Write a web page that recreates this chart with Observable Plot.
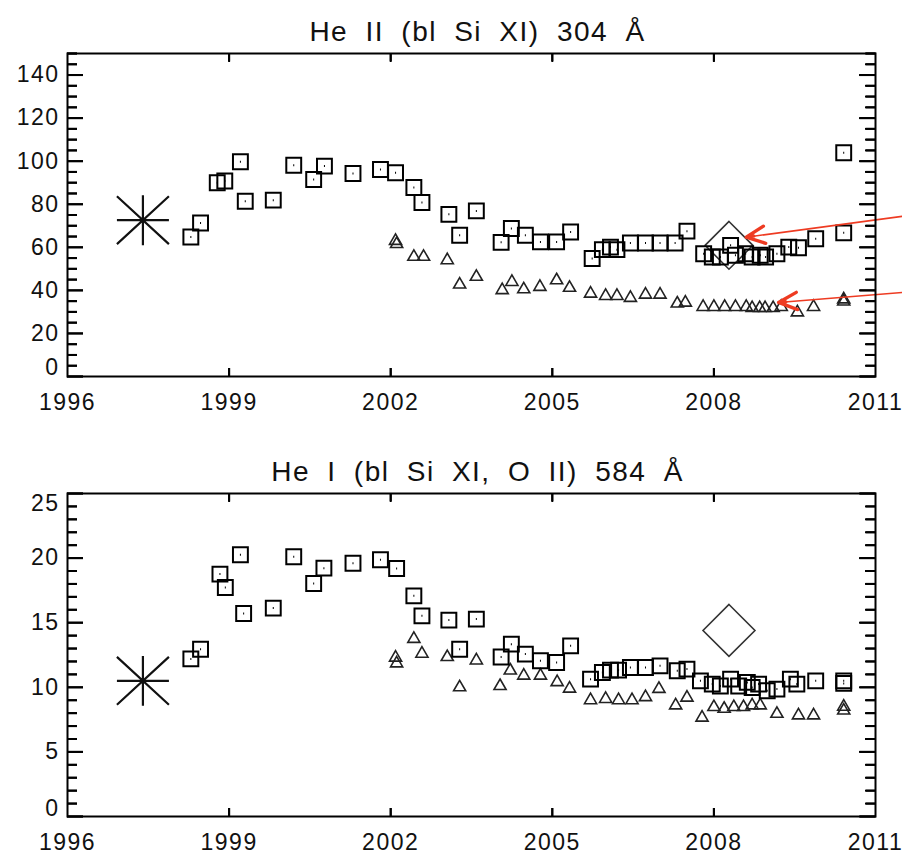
<!DOCTYPE html>
<html>
<head>
<meta charset="utf-8">
<script src="https://cdn.jsdelivr.net/npm/d3@7"></script>
<script src="https://cdn.jsdelivr.net/npm/@observablehq/plot@0.6"></script>
<style>
  body { margin: 0; background: #fff; }
  #chart svg { display: block; }
</style>
</head>
<body>
<div id="chart"></div>
<script>
// ---------- data ----------
const xLabels = [1996, 1999, 2002, 2005, 2008, 2011];
const xInnerTicks = [1999, 2002, 2005, 2008];
const xExtent = [1996, 2011];

const titleTop = "He II (bl Si XI) 304 Å";
const titleBottom = "He I (bl Si XI, O II) 584 Å";

// He II 304 Å — squares [year, value]
const he304Squares = [
  [1998.29, 64.8], [1998.47, 71.3], [1998.78, 90.0], [1998.92, 90.8], [1999.21, 99.7],
  [1999.30, 81.4], [1999.82, 81.9], [2000.20, 98.1], [2000.57, 91.5], [2000.77, 97.7],
  [2001.30, 94.3], [2001.81, 96.1], [2002.09, 94.6], [2002.43, 87.8], [2002.58, 80.8],
  [2003.08, 75.3], [2003.28, 65.6], [2003.59, 76.9], [2004.05, 62.3], [2004.24, 68.7],
  [2004.50, 65.6], [2004.78, 62.5], [2005.08, 62.5], [2005.34, 67.1], [2005.74, 54.8],
  [2005.93, 58.9], [2006.08, 60.1], [2006.20, 58.9], [2006.45, 62.0], [2006.73, 62.0],
  [2007.00, 62.0], [2007.28, 62.0], [2007.50, 67.5], [2007.81, 57.0], [2007.97, 55.5],
  [2008.12, 55.5], [2008.31, 60.9], [2008.40, 56.3], [2008.59, 57.0], [2008.71, 55.5],
  [2008.86, 56.3], [2008.96, 55.5], [2009.17, 57.0], [2009.39, 60.1], [2009.57, 59.8],
  [2009.89, 64.0], [2010.41, 66.7], [2010.41, 103.9]
];
// He II 304 Å — triangles
const he304Triangles = [
  [2002.09, 63.0], [2002.11, 61.5], [2002.43, 55.6], [2002.61, 55.6], [2003.05, 54.0],
  [2003.28, 42.7], [2003.59, 46.3], [2004.07, 40.1], [2004.25, 43.9], [2004.47, 40.5],
  [2004.77, 41.6], [2005.08, 44.7], [2005.32, 41.2], [2005.71, 38.5], [2005.99, 37.4],
  [2006.20, 37.4], [2006.45, 36.5], [2006.73, 38.0], [2007.00, 38.0], [2007.32, 33.9],
  [2007.47, 34.3], [2007.80, 32.3], [2008.00, 32.3], [2008.20, 32.3], [2008.40, 32.3],
  [2008.60, 32.3], [2008.71, 31.8], [2008.85, 31.8], [2008.95, 31.8], [2009.10, 31.8],
  [2009.25, 32.3], [2009.55, 29.8], [2009.85, 32.3], [2010.41, 35.8], [2010.41, 34.8]
];
const he304Star = [[1997.40, 72.6]];
const he304Diamond = [[2008.28, 60.9]];

// He I 584 Å — squares
const he584Squares = [
  [1998.29, 12.20], [1998.47, 12.95], [1998.83, 18.76], [1998.93, 17.72], [1999.21, 20.26],
  [1999.27, 15.71], [1999.82, 16.13], [2000.20, 20.10], [2000.57, 18.03], [2000.76, 19.22],
  [2001.30, 19.60], [2001.81, 19.87], [2002.11, 19.20], [2002.43, 17.08], [2002.58, 15.53],
  [2003.08, 15.20], [2003.28, 12.95], [2003.59, 15.28], [2004.05, 12.35], [2004.24, 13.34],
  [2004.50, 12.57], [2004.78, 12.05], [2005.08, 11.92], [2005.34, 13.21], [2005.71, 10.63],
  [2005.93, 11.15], [2006.08, 11.33], [2006.23, 11.33], [2006.45, 11.53], [2006.73, 11.53],
  [2007.00, 11.66], [2007.32, 11.28], [2007.50, 11.41], [2007.75, 10.50], [2007.97, 10.25],
  [2008.12, 10.10], [2008.31, 10.63], [2008.46, 10.10], [2008.62, 10.38], [2008.71, 9.98],
  [2008.83, 10.25], [2008.99, 9.73], [2009.17, 9.86], [2009.42, 10.63], [2009.54, 10.25],
  [2009.89, 10.50], [2010.41, 10.50], [2010.41, 10.30]
];
// He I 584 Å — triangles
const he584Triangles = [
  [2002.09, 12.30], [2002.11, 11.85], [2002.43, 13.75], [2002.58, 12.60], [2003.05, 12.34],
  [2003.28, 10.00], [2003.59, 12.08], [2004.03, 10.10], [2004.22, 11.30], [2004.47, 10.90],
  [2004.78, 10.90], [2005.09, 10.40], [2005.32, 9.90], [2005.71, 9.00], [2005.99, 9.10],
  [2006.23, 9.00], [2006.48, 9.00], [2006.73, 9.24], [2006.98, 9.88], [2007.29, 8.60],
  [2007.50, 9.20], [2007.78, 7.65], [2008.00, 8.47], [2008.19, 8.34], [2008.37, 8.47],
  [2008.55, 8.47], [2008.71, 8.60], [2008.86, 8.60], [2009.17, 7.95], [2009.57, 7.83],
  [2009.85, 7.83], [2010.41, 8.50], [2010.41, 8.20]
];
const he584Star = [[1997.40, 10.5]];
const he584Diamond = [[2008.28, 14.4]];

// red annotation arrows in the top panel: [startYear, startValue, endYear, endValue]
const topArrows = [
  [2011.50, 74.4, 2008.60, 64.7],
  [2011.50, 39.0, 2009.20, 34.4]
];

// ---------- helpers ----------
const range = (a, b, s) => d3.range(a, b + s / 2, s);

// 8-armed asterisk with a small centre ring
const starSymbol = {
  draw(ctx, size) {
    const r = Math.sqrt(size / Math.PI);
    ctx.moveTo(-r, 0); ctx.lineTo(r, 0);
    ctx.moveTo(0, -0.96 * r); ctx.lineTo(0, 0.96 * r);
    ctx.moveTo(-r, -0.92 * r); ctx.lineTo(r, 0.92 * r);
    ctx.moveTo(-r, 0.92 * r); ctx.lineTo(r, -0.92 * r);
    ctx.moveTo(1.6, 0); ctx.arc(0, 0, 1.6, 0, 2 * Math.PI);
  }
};
// open square with a dot in its centre
const dottedSquare = {
  draw(ctx, size) {
    const w = Math.sqrt(size), h = w / 2;
    ctx.rect(-h, -h, w, w);
    ctx.moveTo(-0.5, 0); ctx.lineTo(0.5, 0);
  }
};

const W = 902, ML = 67, MR = 27, MT = 53;
const FW = W - ML - MR; // frame width in px
const FH = 323;         // frame height in px

function panel(o) {
  const xy = {x: d => d[0], y: d => d[1]};
  const tk = {stroke: "black", strokeWidth: 2};
  const blank = () => "";
  const [yLo] = o.yDomain;
  const marks = [
    // labels
    Plot.axisY(o.yLabels, {tickSize: 0, tickPadding: 8, label: null, tickFormat: d => String(d), fill: "#111"}),
    Plot.axisY([yLo], {tickSize: 0, tickPadding: 8, label: null, dy: o.dyBottom, tickFormat: d => String(d), fill: "#111"}),
    Plot.axisX(xLabels, {tickSize: 0, tickPadding: 17, label: null, tickFormat: d => String(d), fill: "#111"}),
    // data
    Plot.dot(o.diamond, {...xy, symbol: "diamond2", r: o.diamondR, stroke: "#333", strokeWidth: 1.6, fill: "none"}),
    Plot.dot(o.triangles, {...xy, symbol: "triangle", r: 4.5, stroke: "#222", strokeWidth: 1.6, fill: "none"}),
    Plot.dot(o.squares, {...xy, symbol: dottedSquare, r: 8.4, stroke: "black", strokeWidth: 2, fill: "none"}),
    Plot.dot(o.star, {...xy, symbol: starSymbol, r: 26, stroke: "#111", strokeWidth: 2.2, fill: "none"}),
    // title
    Plot.text([o.title], {frameAnchor: "top", lineAnchor: "bottom", dy: -13, dx: 6, fontSize: 28, fill: "#111"})
  ];
  if (o.yTopLabel != null) {
    marks.push(Plot.axisY([o.yTopLabel], {tickSize: 0, tickPadding: 8, label: null, dy: 10, tickFormat: d => String(d), fill: "#111"}));
  }
  if (o.arrows) {
    const a = {x1: d => d[0], y1: d => d[1], x2: d => d[2], y2: d => d[3]};
    const red = "#ee3b22";
    marks.push(Plot.link(o.arrows, {...a, stroke: red, strokeWidth: 1.6}));
    marks.push(Plot.arrow([o.arrows[0]], {...a, stroke: red, strokeWidth: 3.4, headLength: 9, headAngle: 50, insetStart: 150}));
    marks.push(Plot.arrow([o.arrows[1]], {...a, stroke: red, strokeWidth: 3.4, headLength: 9, headAngle: 50, insetStart: 117}));
  }
  marks.push(
    Plot.frame({stroke: "black", strokeWidth: 2, fill: "none"}),
    // inward ticks, drawn as axis ticks shifted into the frame
    Plot.axisY(o.yMajor, {anchor: "left", tickSize: 16, dx: 16, tickFormat: blank, label: null, ...tk}),
    Plot.axisY(o.yMinor, {anchor: "left", tickSize: 10, dx: 10, tickFormat: blank, label: null, ...tk}),
    Plot.axisY(o.yMajor, {anchor: "right", tickSize: 16, dx: -16, tickFormat: blank, label: null, ...tk}),
    Plot.axisY(o.yMinor, {anchor: "right", tickSize: 10, dx: -10, tickFormat: blank, label: null, ...tk}),
    Plot.axisX(xInnerTicks, {anchor: "bottom", tickSize: 8, dy: -8, tickFormat: blank, label: null, ...tk}),
    Plot.axisX(xInnerTicks, {anchor: "top", tickSize: 8, dy: 8, tickFormat: blank, label: null, ...tk}),
    // and the same ticks as short rules
    Plot.ruleY(o.yMajor, {y: d => d, insetRight: FW - 16, ...tk}),
    Plot.ruleY(o.yMinor, {y: d => d, insetRight: FW - 10, ...tk}),
    Plot.ruleY(o.yMajor, {y: d => d, insetLeft: FW - 16, ...tk}),
    Plot.ruleY(o.yMinor, {y: d => d, insetLeft: FW - 10, ...tk}),
    Plot.ruleX(xInnerTicks, {x: d => d, insetTop: FH - 8, ...tk}),
    Plot.ruleX(xInnerTicks, {x: d => d, insetBottom: FH - 8, ...tk})
  );
  return Plot.plot({
    width: W,
    height: o.height,
    marginLeft: ML,
    marginRight: MR,
    marginTop: MT,
    marginBottom: o.marginBottom,
    x: {domain: xExtent},
    y: {domain: o.yDomain},
    style: "font-family: 'Liberation Sans', Arial, Helvetica, sans-serif; font-size: 23px; letter-spacing: 1.5px; word-spacing: 8px; background: white; overflow: visible; color: black;",
    marks
  });
}

const chart = document.getElementById("chart");

chart.appendChild(panel({
  title: titleTop,
  squares: he304Squares,
  triangles: he304Triangles,
  star: he304Star,
  diamond: he304Diamond,
  diamondR: 21.5,
  yDomain: [0, 150],
  yMajor: range(0, 140, 20),
  yMinor: range(0, 150, 5).filter(v => v % 20 !== 0),
  yLabels: range(20, 140, 20),
  dyBottom: -9,
  height: 440,
  marginBottom: 64,
  arrows: topArrows
}));

chart.appendChild(panel({
  title: titleBottom,
  squares: he584Squares,
  triangles: he584Triangles,
  star: he584Star,
  diamond: he584Diamond,
  diamondR: 23.4,
  yDomain: [0, 25],
  yMajor: range(0, 25, 5),
  yMinor: range(0, 25, 1).filter(v => v % 5 !== 0),
  yLabels: range(5, 20, 5),
  yTopLabel: 25,
  dyBottom: -8,
  height: 417,
  marginBottom: 41
}));
</script>
</body>
</html>
